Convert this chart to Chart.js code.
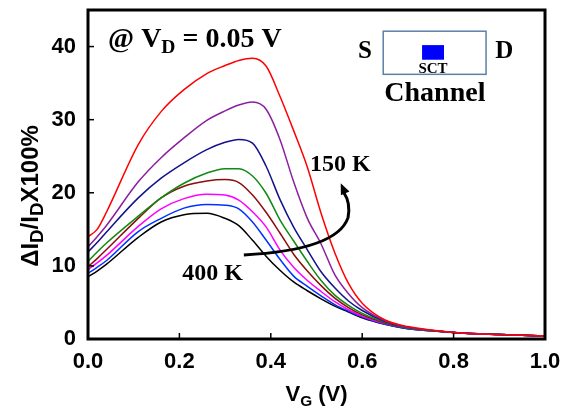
<!DOCTYPE html>
<html>
<head>
<meta charset="utf-8">
<script src="https://cdn.jsdelivr.net/npm/chart.js@4/dist/chart.umd.min.js"></script>
<style>
    body { margin: 0; background: #fff; }
    #wrap { width: 565px; height: 408px; position: relative; }
</style>
</head>
<body>
<div id="wrap"><canvas id="chart"></canvas></div>
<script>
// gate voltage (V), shared by all curves
const vg = [0, 0.02, 0.04, 0.11, 0.16, 0.21, 0.26, 0.30, 0.33, 0.36, 0.39, 0.42, 0.45, 0.48, 0.51, 0.54, 0.57, 0.60, 0.65, 0.70, 0.80, 0.90, 1.00];

// dI/I x100% for each temperature, 150 K (top) to 400 K (bottom)
const red     = [14.0, 15.0, 17.3, 26.6, 31.1, 34.1, 36.3, 37.4, 38.1, 38.4, 37.3, 33.2, 28.5, 23.5, 17.2, 11.8, 7.6, 4.9, 2.6, 1.7, 0.9, 0.6, 0.4];
const purple  = [12.6, 14.0, 15.5, 21.5, 24.8, 27.5, 29.9, 31.2, 32.0, 32.4, 31.4, 27.3, 21.5, 16.5, 13.0, 8.8, 6.2, 4.3, 2.5, 1.6, 0.9, 0.6, 0.4];
const navy    = [11.9, 13.2, 14.6, 19.3, 22.0, 24.1, 25.9, 26.9, 27.3, 26.8, 23.6, 19.1, 15.3, 12.2, 9.2, 7.0, 5.2, 3.9, 2.4, 1.6, 0.9, 0.6, 0.4];
const green   = [10.6, 11.9, 13.1, 16.8, 19.3, 21.3, 22.7, 23.3, 23.3, 22.3, 19.9, 16.3, 13.4, 10.6, 8.0, 6.0, 4.6, 3.5, 2.3, 1.5, 0.9, 0.6, 0.4];
const brown   = [9.9, 11.0, 12.2, 16.5, 19.3, 20.9, 21.6, 21.8, 21.4, 19.7, 17.3, 14.5, 11.6, 9.3, 7.3, 5.6, 4.3, 3.3, 2.2, 1.5, 0.9, 0.6, 0.4];
const magenta = [9.5, 10.4, 11.4, 15.4, 17.8, 19.2, 19.8, 19.7, 19.0, 17.4, 15.3, 12.2, 9.8, 8.0, 6.5, 5.1, 4.0, 3.1, 2.1, 1.5, 0.9, 0.6, 0.4];
const blue    = [9.0, 9.8, 10.7, 14.7, 16.5, 17.9, 18.4, 18.3, 17.8, 16.0, 13.5, 10.9, 8.6, 7.2, 5.9, 4.7, 3.8, 3.0, 2.0, 1.4, 0.9, 0.6, 0.4];
const black   = [8.5, 9.3, 10.2, 13.9, 16.0, 17.0, 17.2, 16.5, 15.5, 13.5, 11.3, 9.4, 7.8, 6.6, 5.5, 4.5, 3.7, 2.9, 2.0, 1.4, 0.9, 0.6, 0.4];

const xTicks = [0, 0.2, 0.4, 0.6, 0.8, 1.0];
const yTicks = [0, 10, 20, 30, 40];

const series = [
    { data: red, color: '#ff0000' },
    { data: purple, color: '#8b1fa0' },
    { data: navy, color: '#12128a' },
    { data: green, color: '#108a10' },
    { data: brown, color: '#8b0d0d' },
    { data: magenta, color: '#ff00ff' },
    { data: blue, color: '#0033ff' },
    { data: black, color: '#000000' }
];

const SANS = '"Liberation Sans", Arial, sans-serif';
const SERIF = '"Liberation Serif", "Times New Roman", serif';

// draws text made of normal and subscript pieces, starting at x on baseline y
function drawRich(ctx, x, y, parts, size, family, align, subScale) {
    const ss = subScale || 0.7;
    const widths = parts.map(p => {
        ctx.font = 'bold ' + (p.sub ? size * ss : size) + 'px ' + family;
        return ctx.measureText(p.t).width;
    });
    const total = widths.reduce((a, b) => a + b, 0);
    let cx = x;
    if (align === 'center') cx = x - total / 2;
    ctx.textAlign = 'left';
    ctx.textBaseline = 'alphabetic';
    parts.forEach((p, i) => {
        ctx.font = 'bold ' + (p.sub ? size * ss : size) + 'px ' + family;
        ctx.fillText(p.t, cx, p.sub ? y + size * 0.22 : y);
        cx += widths[i];
    });
}

const decorations = {
    id: 'decorations',
    afterDraw(chart) {
        const ctx = chart.ctx;
        const xs = chart.scales.x, ys = chart.scales.y;
        const area = chart.chartArea;
        const px = v => xs.getPixelForValue(v);
        const py = v => ys.getPixelForValue(v);

        ctx.save();
        ctx.fillStyle = '#000';
        ctx.strokeStyle = '#000';

        // inward tick marks
        ctx.lineWidth = 1.5;
        xTicks.forEach(v => {
            ctx.beginPath();
            ctx.moveTo(px(v), area.bottom);
            ctx.lineTo(px(v), area.bottom - 6);
            ctx.stroke();
        });
        yTicks.forEach(v => {
            ctx.beginPath();
            ctx.moveTo(area.left, py(v));
            ctx.lineTo(area.left + 6, py(v));
            ctx.stroke();
        });

        // frame
        ctx.lineWidth = 3;
        ctx.strokeRect(area.left, area.top, area.right - area.left, area.bottom - area.top);

        // axis titles
        drawRich(ctx, (area.left + area.right) / 2, 401, [
            { t: 'V' }, { t: 'G', sub: true }, { t: ' (V)' }
        ], 22, SANS, 'center');

        ctx.save();
        ctx.translate(38, 196);
        ctx.rotate(-Math.PI / 2);
        drawRich(ctx, 0, 0, [
            { t: '\u0394I' }, { t: 'D', sub: true }, { t: '/I' }, { t: 'D', sub: true }, { t: 'X100%' }
        ], 24, SANS, 'center', 0.78);
        ctx.restore();

        // condition label
        drawRich(ctx, px(0.044), py(40.0), [
            { t: '@ V' }, { t: 'D', sub: true }, { t: ' = 0.05 V' }
        ], 28, SERIF, 'left');

        // device inset
        ctx.font = 'bold 25px ' + SERIF;
        ctx.textAlign = 'left';
        ctx.fillText('S', px(0.591), py(38.5));
        ctx.fillText('D', px(0.891), py(38.5));
        ctx.textAlign = 'center';
        ctx.font = 'bold 28px ' + SERIF;
        ctx.fillText('Channel', px(0.759), py(32.5));
        ctx.font = 'bold 15px ' + SERIF;
        ctx.fillText('SCT', px(0.755), py(36.4));

        ctx.lineWidth = 1.5;
        ctx.strokeStyle = '#5b80a8';
        ctx.strokeRect(px(0.646), py(42.1), px(0.871) - px(0.646), py(36.2) - py(42.1));
        ctx.fillStyle = '#0000ff';
        ctx.fillRect(px(0.731), py(40.2), px(0.779) - px(0.731), py(38.2) - py(40.2));

        // temperature labels
        ctx.fillStyle = '#000';
        ctx.strokeStyle = '#000';
        ctx.font = 'bold 24px ' + SERIF;
        ctx.textAlign = 'left';
        ctx.fillText('150 K', px(0.486), py(23.0));
        ctx.fillText('400 K', px(0.206), py(8.1));

        // curved arrow 400 K -> 150 K
        ctx.lineWidth = 3;
        ctx.beginPath();
        ctx.moveTo(px(0.341), py(11.5));
        ctx.bezierCurveTo(px(0.464), py(11.9), px(0.551), py(13.3), px(0.569), py(16.6));
        ctx.quadraticCurveTo(px(0.575), py(18.6), px(0.560), py(20.0));
        ctx.stroke();
        const tipX = px(0.553), tipY = py(21.3);
        const ang = Math.atan2(tipY - py(18.6), tipX - px(0.572));
        ctx.beginPath();
        ctx.moveTo(tipX, tipY);
        ctx.lineTo(tipX - 12 * Math.cos(ang - 0.4), tipY - 12 * Math.sin(ang - 0.4));
        ctx.lineTo(tipX - 12 * Math.cos(ang + 0.4), tipY - 12 * Math.sin(ang + 0.4));
        ctx.closePath();
        ctx.fill();

        ctx.restore();
    }
};

// keep the plot box fixed: no extra room for overhanging tick labels
function fixPadding(scale) {
    scale.paddingTop = 0;
    scale.paddingBottom = 0;
    scale.paddingLeft = 0;
    scale.paddingRight = 0;
}

new Chart(document.getElementById('chart'), {
    type: 'line',
    data: {
        datasets: series.map(s => ({
            data: s.data.map((y, i) => ({ x: vg[i], y: y })),
            borderColor: s.color,
            borderWidth: 1.5,
            pointRadius: 0,
            cubicInterpolationMode: 'monotone',
            fill: false
        }))
    },
    options: {
        responsive: true,
        maintainAspectRatio: false,
        animation: false,
        layout: { padding: { top: 10, right: 20, left: 0, bottom: 0 } },
        plugins: { legend: { display: false }, tooltip: { enabled: false } },
        scales: {
            x: {
                type: 'linear',
                min: 0,
                max: 1,
                afterBuildTicks: scale => { scale.ticks = xTicks.map(v => ({ value: v })); },
                afterFit: scale => { scale.height = 69; fixPadding(scale); },
                grid: { display: false, drawTicks: false },
                border: { display: false },
                ticks: {
                    padding: 10,
                    color: '#000',
                    font: { family: SANS, size: 22, weight: 'bold' },
                    callback: v => v.toFixed(1)
                }
            },
            y: {
                min: 0,
                max: 45,
                afterBuildTicks: scale => { scale.ticks = yTicks.map(v => ({ value: v })); },
                afterFit: scale => { scale.width = 88; fixPadding(scale); },
                grid: { display: false, drawTicks: false },
                border: { display: false },
                ticks: {
                    padding: 12,
                    color: '#000',
                    font: { family: SANS, size: 22, weight: 'bold' }
                }
            }
        }
    },
    plugins: [decorations]
});
</script>
</body>
</html>
